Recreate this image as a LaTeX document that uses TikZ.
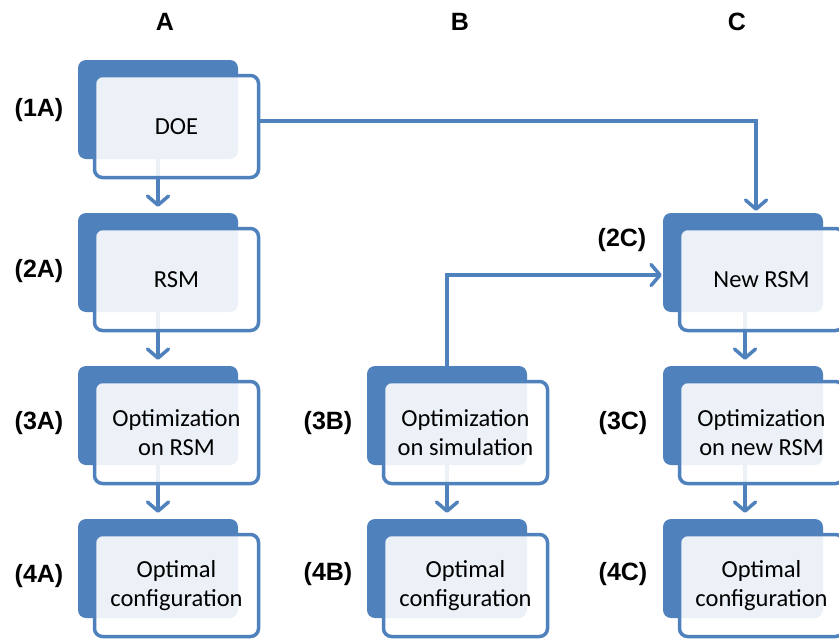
\documentclass[tikz,border=0pt]{standalone}
\usepackage{fontspec}
\setmainfont{Carlito}
\newfontfamily\labfont{Liberation Sans}
\usetikzlibrary{arrows.meta}
\definecolor{bblue}{HTML}{4F81BD}
\tikzset{
  backbox/.style={rectangle, rounded corners=8pt, fill=bblue, draw=none, inner sep=0pt,
    minimum width=160pt, minimum height=99pt},
  frontbox/.style={rectangle, rounded corners=8pt, fill=white, fill opacity=0.89, text opacity=1,
    draw=bblue, draw opacity=1, line width=3.5pt, inner sep=0pt,
    minimum width=164pt, minimum height=102pt, align=center,
    font=\fontsize{24.5}{28.5}\selectfont},
  lbl/.style={font=\labfont\bfseries\fontsize{25}{30}\selectfont, inner sep=0pt},
  arr/.style={draw=bblue, line width=3.5pt, -{Straight Barb[length=9pt,width=21pt,round]}},
}
\begin{document}
\begin{tikzpicture}[x=1pt,y=-1pt]
\useasboundingbox (0,0) rectangle (839,643);
% headers
\node[lbl] (hA) at (165,22) {A};
\node[lbl] (hB) at (460,22) {B};
\node[lbl] (hC) at (737,22) {C};
% labels
\node[lbl] (l1A) at (39,110) {(1A)};
\node[lbl] (l2A) at (39,271) {(2A)};
\node[lbl] (l3A) at (39,423) {(3A)};
\node[lbl] (l4A) at (39,576) {(4A)};
\node[lbl] (l3B) at (328,423) {(3B)};
\node[lbl] (l4B) at (328,574) {(4B)};
\node[lbl] (l2C) at (622,240) {(2C)};
\node[lbl] (l3C) at (623,423) {(3C)};
\node[lbl] (l4C) at (623,574) {(4C)};
% back boxes
\node[backbox] (A1b) at (158,109.5) {};
\node[backbox] (A2b) at (158,262.5) {};
\node[backbox] (A3b) at (158,415.5) {};
\node[backbox] (A4b) at (158,568.5) {};
\node[backbox] (B3b) at (447,415.5) {};
\node[backbox] (B4b) at (447,568.5) {};
\node[backbox] (C2b) at (743,262.5) {};
\node[backbox] (C3b) at (743,415.5) {};
\node[backbox] (C4b) at (743,568.5) {};
% arrows (under the front boxes)
\draw[arr, shorten >=6pt] (A1b.south) -- (A2b.north);
\draw[arr, shorten >=6pt] (A2b.south) -- (A3b.north);
\draw[arr, shorten >=6pt] (A3b.south) -- (A4b.north);
\draw[arr, shorten >=6pt] (B3b.south) -- (B4b.north);
\draw[arr, shorten >=6pt] ([xshift=2pt]C2b.south) -- ([xshift=2pt]C3b.north);
\draw[arr, shorten >=6pt] ([xshift=2pt]C3b.south) -- ([xshift=2pt]C4b.north);
% front boxes
\node[frontbox] (A1f) at (176.5,126.5) {DOE};
\node[frontbox] (A2f) at (176.5,279.5) {RSM};
\node[frontbox] (A3f) at (176.5,432.5) {Optimization\\on RSM};
\node[frontbox] (A4f) at (176.5,585.5) {Optimal\\configuration};
\node[frontbox] (B3f) at (465.5,432.5) {Optimization\\on simulation};
\node[frontbox] (B4f) at (465.5,585.5) {Optimal\\configuration};
\node[frontbox] (C2f) at (761.5,279.5) {New RSM};
\node[frontbox] (C3f) at (761.5,432.5) {Optimization\\on new RSM};
\node[frontbox] (C4f) at (761.5,585.5) {Optimal\\configuration};
% long connectors
\draw[arr, shorten >=2pt] ([yshift=5.5pt]A1f.east) -| ([xshift=13pt]C2b.north);
\draw[arr, shorten >=1pt] (B3b.north) |- ([yshift=-12.5pt]C2b.west);
\end{tikzpicture}
\end{document}
